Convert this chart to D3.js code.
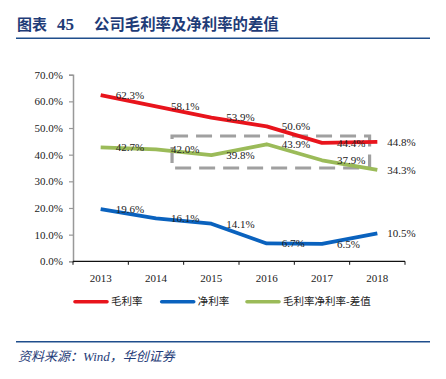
<!DOCTYPE html>
<html><head><meta charset="utf-8">
<script src="https://cdn.jsdelivr.net/npm/d3@7"></script>
<style>body{margin:0;background:#fff}svg{display:block}</style>
</head><body>
<script>
const years = ["2013","2014","2015","2016","2017","2018"];
const grossMargin = [62.3, 58.1, 53.9, 50.6, 44.4, 44.8];
const netMargin = [19.6, 16.1, 14.1, 6.7, 6.5, 10.5];
const diffMargin = [42.7, 42.0, 39.8, 43.9, 37.9, 34.3];
const yTicks = [0,10,20,30,40,50,60,70];
const seriesNames = ["毛利率","净利率","毛利率净利率-差值"];
const seriesColors = ["#E8141C","#0A62BE","#9BBB59"];
const highlightRange = {from:"2014", to:"2018", low:35, high:47};

const W=446,H=379;
const svg=d3.select("body").append("svg").attr("width",W).attr("height",H);
const serif="'Liberation Serif','Times New Roman',serif";
const cjk="'Noto Sans CJK SC','Noto Sans CJK JP',sans-serif";

// title
svg.append("text").attr("x",17).attr("y",30).attr("fill","#1F3C78")
  .attr("font-family",cjk).attr("font-weight","bold").attr("font-size",15)
  .text("图表");
svg.append("text").attr("x",57).attr("y",30).attr("fill","#1F3C78")
  .attr("font-family",serif).attr("font-weight","bold").attr("font-size",17)
  .text("45");
svg.append("text").attr("x",94).attr("y",30).attr("fill","#1F3C78")
  .attr("font-family",cjk).attr("font-weight","bold").attr("font-size",15.4)
  .text("公司毛利率及净利率的差值");
svg.append("line").attr("x1",16).attr("x2",430).attr("y1",38.3).attr("y2",38.3)
  .attr("stroke","#1F4E8C").attr("stroke-width",1.6);

const x=d3.scaleBand().domain(years).range([73,405]);
const y=d3.scaleLinear().domain([0,70]).range([261.3,74.7]);
const cx=d=>x(d)+x.bandwidth()/2;

// y axis
const ya=svg.append("g").attr("transform","translate(73,0)")
  .call(d3.axisLeft(y).tickValues(yTicks).tickSize(4).tickPadding(6).tickFormat(d=>d.toFixed(1)+"%"));
ya.attr("font-family",serif);
ya.select(".domain").attr("stroke","#999").attr("stroke-width",1.5);
ya.selectAll(".tick line").attr("stroke","#999").attr("stroke-width",1.2);
ya.selectAll("text").attr("font-family",serif).attr("font-size",11).attr("fill","#222");

// x axis
const xa=svg.append("g").attr("transform","translate(0,261.3)")
  .call(d3.axisBottom(x).tickSize(0).tickPadding(13));
xa.attr("font-family",serif);
xa.select(".domain").remove();
xa.append("line").attr("x1",73).attr("x2",405).attr("stroke","#111").attr("stroke-width",1.2);
const edges=years.map(d=>x(d)).concat([x(years[years.length-1])+x.bandwidth()]);
xa.selectAll(".edge").data(edges).enter().append("line")
  .attr("x1",d=>d).attr("x2",d=>d).attr("y1",0).attr("y2",3.5)
  .attr("stroke","#111").attr("stroke-width",1);
xa.selectAll("text").attr("font-family",serif).attr("font-size",11).attr("fill","#222");

// highlight dashed rect
const rx0=x(highlightRange.from)+x.bandwidth()*0.79;
const rx1=x(highlightRange.to)+x.bandwidth()*0.36;
svg.append("rect")
  .attr("x",rx0)
  .attr("y",y(highlightRange.high))
  .attr("width",rx1-rx0)
  .attr("height",y(highlightRange.low)-y(highlightRange.high))
  .attr("fill","none").attr("stroke","#A0A0A0").attr("stroke-width",3.2)
  .attr("stroke-dasharray","16,8");

const allSeries=[grossMargin,netMargin,diffMargin];
const line=d3.line().x((d,i)=>cx(years[i])).y(d=>y(d));
allSeries.forEach((s,k)=>{
  svg.append("path").datum(s).attr("d",line).attr("fill","none")
    .attr("stroke",seriesColors[k]).attr("stroke-width",3.8)
    .attr("stroke-linejoin","round");
});
allSeries.forEach((s,k)=>{
  svg.selectAll(".lbl"+k).data(s).enter().append("text")
    .attr("x",(d,i)=>cx(years[i])+(i===s.length-1?10:15))
    .attr("y",d=>y(d)).attr("dy","0.35em")
    .attr("font-family",serif).attr("font-size",11).attr("fill","#222")
    .text(d=>d.toFixed(1)+"%");
});

// legend
const legX=[75,161.7,247];
seriesNames.forEach((n,k)=>{
  svg.append("line").attr("x1",legX[k]).attr("x2",legX[k]+32).attr("y1",301.7).attr("y2",301.7)
    .attr("stroke",seriesColors[k]).attr("stroke-width",3.6).attr("stroke-linecap","round");
  svg.append("text").attr("x",legX[k]+36).attr("y",301.7).attr("dy","0.36em")
    .attr("font-family",cjk).attr("font-size",10.5).attr("fill","#222").text(n);
});

// source
svg.append("line").attr("x1",16).attr("x2",430).attr("y1",341.7).attr("y2",341.7)
  .attr("stroke","#1F4E8C").attr("stroke-width",1.4);
const src=svg.append("text").attr("x",18).attr("y",361).attr("fill","#1F3C78")
  .attr("font-family",cjk).attr("font-style","italic").attr("font-size",13);
src.append("tspan").text("资料来源：");
src.append("tspan").attr("font-family",serif).text("Wind");
src.append("tspan").text("，华创证券");
</script>
</body></html>
